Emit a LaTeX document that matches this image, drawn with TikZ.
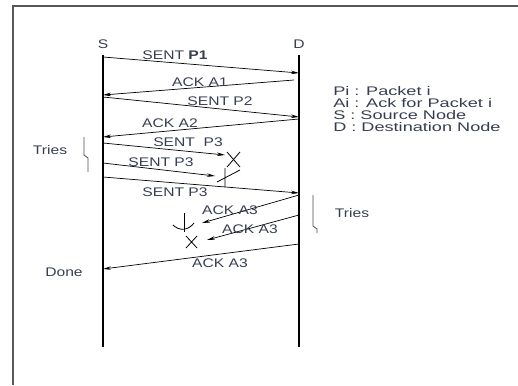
\documentclass[tikz,border=0pt]{standalone}
\usepackage{fontspec}
\setmainfont{Liberation Sans}
\usetikzlibrary{arrows.meta}
\definecolor{txt}{RGB}{55,62,82}
\definecolor{framec}{RGB}{88,88,88}
\begin{document}
\begin{tikzpicture}[x=1pt, y=-1pt, every node/.style={font=\fontsize{12.5}{14}\selectfont, text=txt, inner sep=0pt, xscale=1.25, transform shape}]
  \tikzstyle{msg}=[-{Stealth[length=8pt,width=3.5pt]}, line width=0.7pt]
  \tikzstyle{life}=[line width=1.4pt]
  \tikzstyle{lost}=[line width=0.8pt]
  \tikzstyle{brk}=[line width=0.8pt, black!70]
  \tikzstyle{legend}=[anchor=west, xscale=1.16]
  \useasboundingbox (0,0) rectangle (518,385);
  \draw[framec, line width=2pt] (13,385) -- (13,6) -- (518,6);
  % lifelines
  \node (S) at (103,44) {S};
  \node (D) at (299,44) {D};
  \coordinate (sTop) at (103,55);
  \coordinate (sBot) at (103,347);
  \coordinate (dTop) at (299,55);
  \coordinate (dBot) at (299,347);
  \draw[life] (sTop) -- (sBot);
  \draw[life] (dTop) -- (dBot);
  % points on the lifelines
  \coordinate (s1) at (103,57);  \coordinate (d1) at (299,73);
  \coordinate (d2) at (294,80);  \coordinate (s2) at (103,95);
  \coordinate (s3) at (103,97);  \coordinate (d3) at (299,117);
  \coordinate (d4) at (299,119); \coordinate (s4) at (103,137);
  \coordinate (s5) at (103,143); \coordinate (e5) at (225,155);
  \coordinate (s6) at (103,163); \coordinate (e6) at (215,176);
  \coordinate (s7) at (103,177); \coordinate (d7) at (299,193);
  \coordinate (d8) at (299,195); \coordinate (e8) at (202,223);
  \coordinate (d9) at (299,215); \coordinate (e9) at (207,240);
  \coordinate (d10) at (299,244); \coordinate (s10) at (103,269);
  % messages
  \draw[msg] (s1) -- (d1);
  \draw[msg] (d2) -- (s2);
  \draw[msg] (s3) -- (d3);
  \draw[msg] (d4) -- (s4);
  \draw[msg] (s5) -- (e5);
  \draw[msg] (s6) -- (e6);
  \draw[msg] (s7) -- (d7);
  \draw[msg] (d8) -- (e8);
  \draw[msg] (d9) -- (e9);
  \draw[msg] (d10) -- (s10);
  \node (m1) at (175,55) {SENT \textbf{P1}};
  \node (m2) at (200,82) {ACK A1};
  \node (m3) at (220,101) {SENT P2};
  \node (m4) at (170,123) {ACK A2};
  \node (m5) at (188,142) {SENT\ \ P3};
  \node (m6) at (161,162) {SENT P3};
  \node (m7) at (175,192) {SENT P3};
  \node (m8) at (230,210) {ACK A3};
  \node (m9) at (250,229) {ACK A3};
  \node (m10) at (220,263) {ACK A3};
  % lost packets
  \draw[lost] (227,152) -- (240,167) (240,152) -- (227,167);
  \draw[lost] (225,168) -- (225,187) (217,182) -- (240,170);
  \draw[lost] (184,213) -- (184,232);
  \draw[lost] (173,225) .. controls (179,231) and (188,231) .. (194,223);
  \draw[lost] (186,236) -- (197,248) (197,236) -- (186,248);
  % retries
  \draw[brk] (84,137) -- (84,155) -- (88,158) -- (88,172);
  \draw[brk] (313,195) -- (313,226) -- (317,229) -- (317,233);
  \node (t1) at (50,150) {Tries};
  \node (t2) at (352,213) {Tries};
  \node (done) at (64,272) {Done};
  % legend
  \node[legend] (l1) at (333,91) {Pi : Packet i};
  \node[legend] (l2) at (333,103) {Ai : Ack for Packet i};
  \node[legend] (l3) at (333,115) {S : Source Node};
  \node[legend] (l4) at (333,127) {D : Destination Node};
\end{tikzpicture}
\end{document}
